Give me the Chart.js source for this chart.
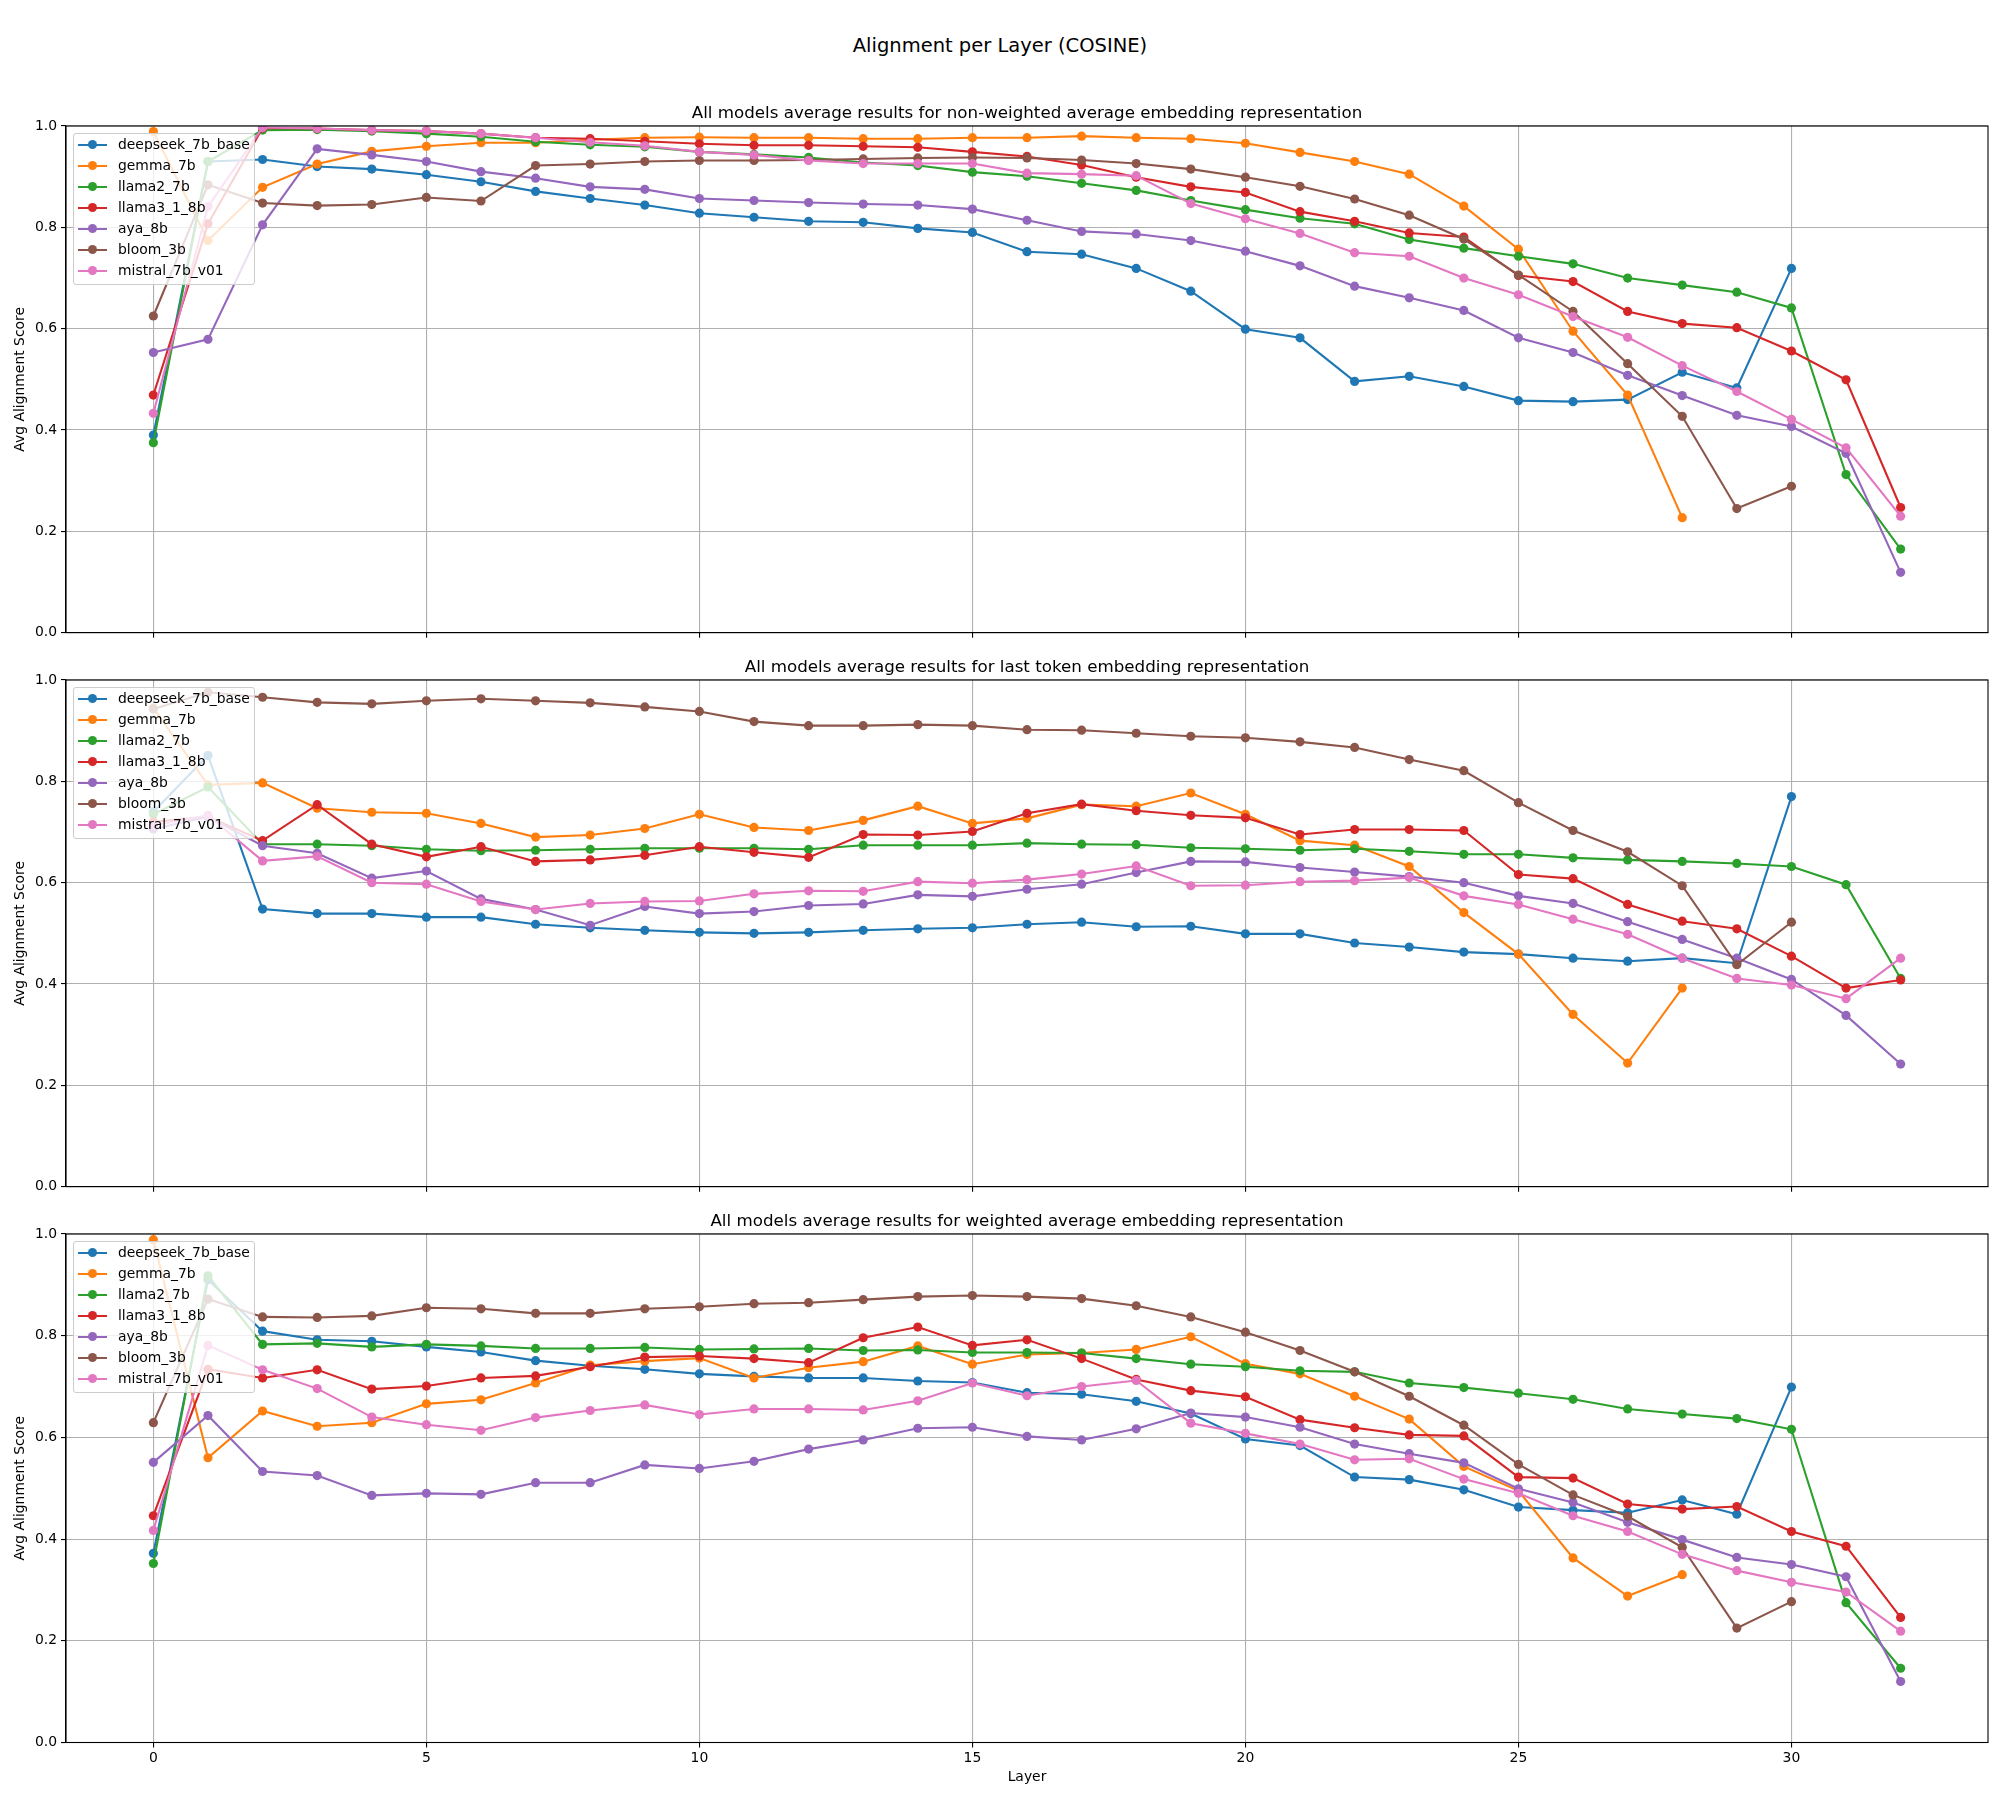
<!DOCTYPE html>
<html>
<head>
<meta charset="utf-8">
<title>Alignment per Layer (COSINE)</title>
<script src="https://cdn.jsdelivr.net/npm/chart.js@4.4.1/dist/chart.umd.min.js"></script>
<style>
  html, body { margin: 0; padding: 0; background: #fff; }
  body { width: 2000px; height: 1800px; position: relative; overflow: hidden; font-family: "DejaVu Sans", sans-serif; }
  #suptitle { position: absolute; left: 0; top: 34px; width: 2000px; text-align: center; font-size: 19.5px; line-height: 24px; color: #000; }
  canvas { position: absolute; left: 0; }
  .legend { position: absolute; left: 73px; width: 182px; height: 152px; box-sizing: border-box;
            background: rgba(255,255,255,0.8); border: 1px solid #cccccc; border-radius: 3px; }
  .legend .row { position: absolute; left: 0; width: 180px; height: 21px; line-height: 21px; font-size: 13.9px; color: #000; }
  .legend .handle { position: absolute; left: 4px; top: 9.5px; width: 29px; height: 2px; }
  .legend .dot { position: absolute; left: 10px; top: -3.6px; width: 9.2px; height: 9.2px; border-radius: 50%; }
  .legend .label { position: absolute; left: 44px; top: 0; white-space: nowrap; }
</style>
</head>
<body>
<div id="suptitle">Alignment per Layer (COSINE)</div>

<script>
/* =====================================
   DATA
===================================== */
const LAYERS = [0, 1, 2, 3, 4, 5, 6, 7, 8, 9, 10, 11, 12, 13, 14, 15, 16, 17, 18, 19, 20,
                21, 22, 23, 24, 25, 26, 27, 28, 29, 30, 31, 32];
const X_TICKS = [0, 5, 10, 15, 20, 25, 30];
const Y_TICKS = [0, 0.2, 0.4, 0.6, 0.8, 1.0];

const MODELS = ["deepseek_7b_base", "gemma_7b", "llama2_7b", "llama3_1_8b", "aya_8b", "bloom_3b", "mistral_7b_v01"];
const COLORS = ["#1f77b4", "#ff7f0e", "#2ca02c", "#d62728", "#9467bd", "#8c564b", "#e377c2"];

const SUBTITLES = [
  "All models average results for non-weighted average embedding representation",
  "All models average results for last token embedding representation",
  "All models average results for weighted average embedding representation"
];

// one row per model, same order as MODELS
const NONWEIGHTED_AVG = [
  [0.39, 0.93, 0.934, 0.92, 0.915, 0.904, 0.89, 0.871, 0.857, 0.844, 0.828, 0.82, 0.812, 0.81, 0.798, 0.79, 0.752, 0.747, 0.719, 0.674, 0.599, 0.582, 0.496, 0.506, 0.486, 0.458, 0.456, 0.46, 0.514, 0.483, 0.719],
  [0.989, 0.774, 0.879, 0.925, 0.95, 0.96, 0.967, 0.967, 0.973, 0.977, 0.978, 0.977, 0.977, 0.975, 0.975, 0.977, 0.977, 0.98, 0.977, 0.975, 0.966, 0.948, 0.93, 0.905, 0.842, 0.757, 0.595, 0.469, 0.227],
  [0.375, 0.93, 0.992, 0.993, 0.99, 0.985, 0.979, 0.969, 0.963, 0.959, 0.949, 0.944, 0.938, 0.928, 0.922, 0.909, 0.901, 0.887, 0.873, 0.853, 0.835, 0.818, 0.807, 0.776, 0.759, 0.743, 0.728, 0.7, 0.686, 0.672, 0.641, 0.312, 0.165],
  [0.469, 0.807, 0.996, 0.995, 0.992, 0.99, 0.985, 0.977, 0.975, 0.97, 0.965, 0.962, 0.962, 0.96, 0.958, 0.949, 0.94, 0.923, 0.899, 0.88, 0.869, 0.831, 0.812, 0.789, 0.781, 0.705, 0.693, 0.634, 0.61, 0.602, 0.556, 0.499, 0.247],
  [0.553, 0.579, 0.805, 0.955, 0.943, 0.93, 0.91, 0.897, 0.88, 0.875, 0.857, 0.853, 0.849, 0.846, 0.844, 0.836, 0.814, 0.792, 0.787, 0.774, 0.753, 0.724, 0.684, 0.661, 0.636, 0.582, 0.553, 0.508, 0.468, 0.429, 0.407, 0.354, 0.119],
  [0.625, 0.884, 0.848, 0.843, 0.845, 0.859, 0.852, 0.922, 0.925, 0.93, 0.932, 0.932, 0.933, 0.935, 0.937, 0.938, 0.937, 0.933, 0.926, 0.915, 0.899, 0.881, 0.856, 0.824, 0.777, 0.706, 0.634, 0.531, 0.427, 0.245, 0.289],
  [0.433, 0.841, 0.997, 0.995, 0.992, 0.99, 0.985, 0.977, 0.968, 0.961, 0.949, 0.943, 0.932, 0.926, 0.926, 0.926, 0.907, 0.905, 0.902, 0.847, 0.817, 0.788, 0.75, 0.743, 0.7, 0.667, 0.624, 0.583, 0.527, 0.476, 0.421, 0.365, 0.23]
];

const LAST_TOKEN = [
  [0.74, 0.851, 0.548, 0.539, 0.539, 0.532, 0.532, 0.518, 0.511, 0.506, 0.502, 0.5, 0.502, 0.506, 0.509, 0.511, 0.518, 0.522, 0.513, 0.514, 0.499, 0.499, 0.481, 0.473, 0.463, 0.459, 0.451, 0.445, 0.451, 0.441, 0.77],
  [0.945, 0.793, 0.797, 0.747, 0.739, 0.737, 0.717, 0.69, 0.694, 0.707, 0.735, 0.709, 0.703, 0.723, 0.751, 0.717, 0.727, 0.754, 0.751, 0.777, 0.735, 0.683, 0.674, 0.632, 0.541, 0.459, 0.34, 0.244, 0.392],
  [0.735, 0.789, 0.676, 0.676, 0.673, 0.666, 0.663, 0.664, 0.666, 0.668, 0.668, 0.668, 0.666, 0.674, 0.674, 0.674, 0.678, 0.676, 0.675, 0.669, 0.667, 0.664, 0.667, 0.662, 0.656, 0.656, 0.649, 0.645, 0.642, 0.638, 0.632, 0.596, 0.411],
  [0.72, 0.73, 0.683, 0.754, 0.676, 0.651, 0.671, 0.642, 0.645, 0.654, 0.671, 0.66, 0.65, 0.695, 0.694, 0.701, 0.737, 0.755, 0.742, 0.733, 0.728, 0.695, 0.705, 0.705, 0.703, 0.616, 0.608, 0.557, 0.524, 0.509, 0.455, 0.392, 0.408],
  [0.706, 0.73, 0.673, 0.658, 0.609, 0.623, 0.568, 0.547, 0.516, 0.553, 0.539, 0.543, 0.555, 0.558, 0.576, 0.573, 0.587, 0.597, 0.62, 0.642, 0.641, 0.63, 0.621, 0.612, 0.6, 0.574, 0.559, 0.523, 0.488, 0.451, 0.409, 0.338, 0.242],
  [0.943, 0.976, 0.966, 0.956, 0.953, 0.959, 0.963, 0.959, 0.955, 0.947, 0.938, 0.918, 0.91, 0.91, 0.912, 0.91, 0.902, 0.901, 0.895, 0.889, 0.886, 0.878, 0.867, 0.843, 0.821, 0.758, 0.703, 0.661, 0.594, 0.438, 0.522],
  [0.713, 0.733, 0.643, 0.652, 0.6, 0.597, 0.563, 0.547, 0.559, 0.563, 0.564, 0.578, 0.584, 0.583, 0.602, 0.599, 0.606, 0.617, 0.633, 0.594, 0.595, 0.602, 0.604, 0.61, 0.574, 0.557, 0.528, 0.498, 0.451, 0.411, 0.398, 0.371, 0.451]
];

const WEIGHTED_AVG = [
  [0.372, 0.91, 0.809, 0.792, 0.789, 0.778, 0.768, 0.751, 0.741, 0.734, 0.725, 0.72, 0.717, 0.717, 0.711, 0.708, 0.688, 0.685, 0.671, 0.647, 0.597, 0.584, 0.522, 0.517, 0.497, 0.463, 0.457, 0.452, 0.477, 0.449, 0.699],
  [0.989, 0.56, 0.652, 0.622, 0.629, 0.666, 0.674, 0.707, 0.742, 0.75, 0.756, 0.717, 0.737, 0.749, 0.78, 0.744, 0.763, 0.766, 0.773, 0.798, 0.745, 0.725, 0.681, 0.636, 0.543, 0.495, 0.363, 0.288, 0.33],
  [0.352, 0.918, 0.783, 0.785, 0.778, 0.783, 0.78, 0.775, 0.775, 0.777, 0.773, 0.774, 0.775, 0.771, 0.772, 0.767, 0.767, 0.766, 0.755, 0.744, 0.739, 0.731, 0.729, 0.707, 0.698, 0.687, 0.675, 0.656, 0.646, 0.637, 0.616, 0.275, 0.146],
  [0.446, 0.734, 0.717, 0.733, 0.695, 0.701, 0.717, 0.721, 0.739, 0.758, 0.76, 0.755, 0.747, 0.796, 0.817, 0.781, 0.792, 0.755, 0.714, 0.692, 0.68, 0.635, 0.619, 0.605, 0.603, 0.522, 0.52, 0.469, 0.459, 0.464, 0.415, 0.386, 0.246],
  [0.551, 0.643, 0.533, 0.525, 0.486, 0.49, 0.488, 0.511, 0.511, 0.546, 0.539, 0.553, 0.577, 0.595, 0.618, 0.62, 0.602, 0.595, 0.617, 0.648, 0.64, 0.62, 0.587, 0.568, 0.55, 0.499, 0.472, 0.433, 0.399, 0.364, 0.35, 0.326, 0.12],
  [0.629, 0.872, 0.837, 0.836, 0.839, 0.855, 0.853, 0.844, 0.844, 0.853, 0.857, 0.863, 0.865, 0.871, 0.877, 0.879, 0.877, 0.873, 0.859, 0.837, 0.807, 0.771, 0.729, 0.681, 0.624, 0.547, 0.487, 0.445, 0.384, 0.225, 0.277],
  [0.417, 0.781, 0.733, 0.696, 0.64, 0.625, 0.614, 0.639, 0.653, 0.664, 0.645, 0.656, 0.656, 0.654, 0.672, 0.707, 0.682, 0.7, 0.712, 0.628, 0.608, 0.587, 0.556, 0.558, 0.518, 0.49, 0.446, 0.415, 0.37, 0.338, 0.315, 0.296, 0.219]
];

/* =====================================
   LAYOUT (pixel placement of each panel)
===================================== */
const FONT = "DejaVu Sans";
Chart.defaults.font.family = FONT;
Chart.defaults.color = "#000";

const panels = [
  { series: NONWEIGHTED_AVG, top: 102, height: 543, axisH: 10, showX: false },
  { series: LAST_TOKEN,      top: 656, height: 543, axisH: 10, showX: false },
  { series: WEIGHTED_AVG,    top: 1210, height: 590, axisH: 57.5, showX: true }
];

// black box round the plot area, like the matplotlib spines
const framePlugin = {
  id: "frame",
  afterDraw(chart) {
    const { ctx, chartArea: a } = chart;
    ctx.save();
    ctx.strokeStyle = "#000";
    ctx.lineWidth = 1.1;
    ctx.strokeRect(a.left, a.top, a.right - a.left, a.bottom - a.top);
    ctx.restore();
  }
};

function addLegend(areaTop) {
  const box = document.createElement("div");
  box.className = "legend";
  box.style.top = (areaTop + 6.7) + "px";
  MODELS.forEach((name, i) => {
    const row = document.createElement("div");
    row.className = "row";
    row.style.top = (0.6 + i * 21) + "px";
    row.innerHTML =
      `<span class="handle" style="background:${COLORS[i]}">` +
      `<span class="dot" style="background:${COLORS[i]}"></span></span>` +
      `<span class="label">${name}</span>`;
    box.appendChild(row);
  });
  document.body.appendChild(box);
}

function renderPanel(p, idx) {
  const canvas = document.createElement("canvas");
  canvas.width = 2000;
  canvas.height = p.height;
  canvas.style.top = p.top + "px";
  canvas.style.width = "2000px";
  canvas.style.height = p.height + "px";
  document.body.appendChild(canvas);

  const datasets = MODELS.map((name, i) => ({
    label: name,
    data: p.series[i].map((v, k) => ({ x: LAYERS[k], y: v })),
    borderColor: COLORS[i],
    backgroundColor: COLORS[i],
    pointBackgroundColor: COLORS[i],
    pointBorderWidth: 0,
    pointRadius: 4.6,
    borderWidth: 2.1,
    tension: 0,
    order: MODELS.length - i   // later models drawn on top
  }));

  new Chart(canvas, {
    type: "line",
    data: { datasets },
    options: {
      responsive: false,
      animation: false,
      devicePixelRatio: 1,
      layout: { padding: { left: 0, right: 12, top: 0, bottom: 0 } },
      plugins: {
        legend: { display: false },
        tooltip: { enabled: false },
        title: {
          display: true,
          fullSize: false,   // centre over the plot area, not the canvas
          text: SUBTITLES[idx],
          color: "#000",
          font: { family: FONT, size: 16.7, weight: "normal", lineHeight: 1.2 },
          padding: { top: 2, bottom: 2 }
        }
      },
      scales: {
        x: {
          type: "linear",
          min: -1.6,
          max: 33.6,
          afterBuildTicks: s => { s.ticks = X_TICKS.map(v => ({ value: v })); },
          afterFit: s => { s.height = p.axisH; },
          grid: { color: "#b0b0b0", lineWidth: 1.1, tickColor: "#000", tickLength: 5, drawTicks: true },
          border: { display: true, color: "#000", width: 1.1 },
          ticks: {
            display: p.showX,
            autoSkip: false,
            maxRotation: 0,
            padding: 3,
            color: "#000",
            font: { family: FONT, size: 13.9 },
            callback: v => String(v)
          },
          title: {
            display: p.showX,
            text: "Layer",
            color: "#000",
            font: { family: FONT, size: 13.9 },
            padding: { top: 0, bottom: 14.7 }
          }
        },
        y: {
          min: 0,
          max: 1,
          afterBuildTicks: s => { s.ticks = Y_TICKS.map(v => ({ value: v })); },
          afterFit: s => { s.width = 66; },
          grid: { color: "#b0b0b0", lineWidth: 1.1, tickColor: "#000", tickLength: 5, drawTicks: true },
          border: { display: true, color: "#000", width: 1.1 },
          ticks: {
            padding: 4,
            color: "#000",
            font: { family: FONT, size: 13.9 },
            callback: v => v.toFixed(1)
          },
          title: {
            display: true,
            text: "Avg Alignment Score",
            color: "#000",
            font: { family: FONT, size: 13.9 },
            padding: { top: 11.6, bottom: 0 }
          }
        }
      }
    },
    plugins: [framePlugin]
  });

  addLegend(p.top + 24);
}

panels.forEach(renderPanel);
</script>
</body>
</html>
